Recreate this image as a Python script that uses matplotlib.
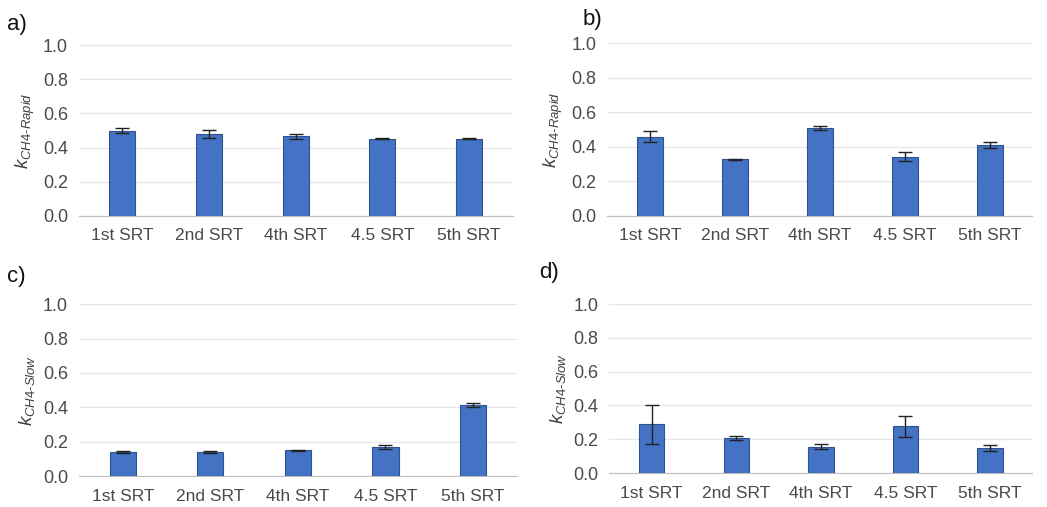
import matplotlib
matplotlib.use("Agg")
import matplotlib.pyplot as plt
import numpy as np

plt.rcParams["font.family"] = ["Liberation Sans", "DejaVu Sans"]
plt.rcParams["mathtext.fontset"] = "custom"
plt.rcParams["mathtext.rm"] = "Liberation Sans"
plt.rcParams["mathtext.it"] = "Liberation Sans:italic"

categories = ["1st SRT", "2nd SRT", "4th SRT", "4.5 SRT", "5th SRT"]

# panel a) k CH4-Rapid
a_vals = [0.50, 0.48, 0.466, 0.452, 0.452]
a_err = [0.015, 0.022, 0.013, 0.003, 0.003]
# panel b) k CH4-Rapid
b_vals = [0.459, 0.328, 0.507, 0.343, 0.41]
b_err = [0.03, 0.002, 0.012, 0.026, 0.018]
# panel c) k CH4-Slow
c_vals = [0.138, 0.138, 0.151, 0.171, 0.412]
c_err = [0.005, 0.005, 0.003, 0.012, 0.013]
# panel d) k CH4-Slow
d_vals = [0.289, 0.206, 0.156, 0.277, 0.150]
d_err = [0.116, 0.013, 0.013, 0.063, 0.018]

panels = [
    ("a)", a_vals, a_err, "Rapid", [0.0755, 0.574, 0.414, 0.337]),
    ("b)", b_vals, b_err, "Rapid", [0.580, 0.574, 0.406, 0.341]),
    ("c)", c_vals, c_err, "Slow", [0.0755, 0.061, 0.418, 0.339]),
    ("d)", d_vals, d_err, "Slow", [0.582, 0.067, 0.404, 0.333]),
]
label_pos = [(0.007, 0.952), (0.556, 0.962), (0.007, 0.455), (0.515, 0.462)]

fig = plt.figure(figsize=(10.47, 5.07), dpi=100)

for (tag, vals, err, kind, rect), (lx, ly) in zip(panels, label_pos):
    ax = fig.add_axes(rect)
    x = np.arange(len(categories))
    ax.bar(x, vals, width=0.3, color="#4472C4", edgecolor="#2F528F",
           linewidth=0.8, zorder=3)
    ax.errorbar(x, vals, yerr=err, fmt="none", ecolor="#222222",
                elinewidth=1.0, capsize=5, capthick=1.0, zorder=4)
    ax.set_xlim(-0.5, len(categories) - 0.5)
    ax.set_ylim(0, 1.0)
    ax.set_yticks(np.arange(0, 1.01, 0.2))
    ax.set_yticklabels([f"{v:.1f}" for v in np.arange(0, 1.01, 0.2)])
    ax.set_xticks(x)
    ax.set_xticklabels(categories)
    ax.yaxis.grid(True, color="#e6e6e6", linewidth=1.0, zorder=0)
    for s in ["top", "right", "left"]:
        ax.spines[s].set_visible(False)
    ax.spines["bottom"].set_color("#bfbfbf")
    ax.tick_params(axis="x", length=0, labelsize=12.5, colors="#4a4a4a", pad=9)
    ax.tick_params(axis="y", length=0, labelsize=13, colors="#4a4a4a", pad=8)
    ylab = "$k_{CH4\u2010" + kind + "}$"
    ax.set_ylabel(ylab, fontsize=13.5, color="#404040", labelpad=4)
    fig.text(lx, ly, tag, fontsize=16, color="#111111", va="center")

fig.savefig("out.png", dpi=100)
